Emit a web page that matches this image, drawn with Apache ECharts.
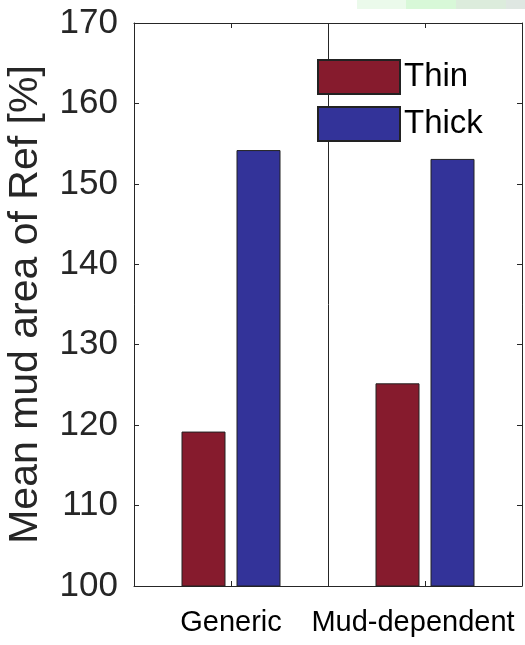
<!DOCTYPE html>
<html>
<head>
<meta charset="utf-8">
<script src="https://cdn.jsdelivr.net/npm/echarts@6/dist/echarts.min.js"></script>
<style>
  html, body { margin: 0; padding: 0; background: #ffffff; }
  #chart { width: 525px; height: 645px; }
</style>
</head>
<body>
<div id="chart"></div>
<script>
// Mean mud area relative to the reference run, per model variant
const categories = ['Generic', 'Mud-dependent'];
const seriesNames = ['Thin', 'Thick'];
const thinValues = [119.2, 125.2];
const thickValues = [154.2, 153.1];
const yTicks = [100, 110, 120, 130, 140, 150, 160, 170];

const FONT = '"Liberation Sans", Arial, Helvetica, sans-serif';
const INK = '#262626';
const colors = ['#861b2d', '#333399'];

const chart = echarts.init(document.getElementById('chart'), null, { renderer: 'canvas' });

const tickStyle = { show: true, inside: true, length: 5, lineStyle: { color: INK, width: 1 } };
const lineStyle = { show: true, lineStyle: { color: INK, width: 1 } };

chart.setOption({
  animation: false,
  backgroundColor: '#ffffff',
  textStyle: { fontFamily: FONT },
  grid: { left: 134, right: 3, top: 23, bottom: 59, containLabel: false, outerBoundsMode: 'none' },
  legend: {
    orient: 'vertical',
    left: 317,
    top: 59,
    data: seriesNames,
    icon: 'rect',
    itemWidth: 82,
    itemHeight: 34,
    itemGap: 11,
    padding: 0,
    textStyle: { fontFamily: FONT, fontSize: 33, color: '#000000', padding: [0, 0, 0, -1] }
  },
  xAxis: [
    {
      type: 'category',
      data: categories,
      position: 'bottom',
      boundaryGap: true,
      axisLine: lineStyle,
      axisTick: Object.assign({ alignWithLabel: true, interval: 0 }, tickStyle),
      splitLine: { show: true, interval: 0, lineStyle: { color: INK, width: 1 } },
      axisLabel: {
        interval: 0,
        margin: 22,
        fontFamily: FONT,
        fontSize: 29,
        color: '#000000',
        formatter: function (v) { return v === 'Mud-dependent' ? '{shift|' + v + '}' : v; },
        rich: { shift: { fontFamily: FONT, fontSize: 29, color: '#000000', padding: [0, 24, 0, 0] } }
      }
    },
    {
      type: 'category',
      data: categories,
      position: 'top',
      boundaryGap: true,
      axisLine: lineStyle,
      axisTick: Object.assign({ alignWithLabel: true, interval: 0 }, tickStyle),
      axisLabel: { show: false },
      splitLine: { show: false }
    }
  ],
  yAxis: [
    {
      type: 'value',
      min: yTicks[0],
      max: yTicks[yTicks.length - 1],
      interval: 10,
      position: 'left',
      name: 'Mean mud area of Ref [%]',
      nameLocation: 'middle',
      nameGap: 88,
      nameTextStyle: { fontFamily: FONT, fontSize: 41, color: INK },
      axisLine: lineStyle,
      axisTick: tickStyle,
      splitLine: { show: false },
      axisLabel: { margin: 16, fontFamily: FONT, fontSize: 35, color: INK }
    },
    {
      type: 'value',
      min: yTicks[0],
      max: yTicks[yTicks.length - 1],
      interval: 10,
      position: 'right',
      axisLine: lineStyle,
      axisTick: tickStyle,
      splitLine: { show: false },
      axisLabel: { show: false }
    }
  ],
  series: [
    {
      name: seriesNames[0],
      type: 'bar',
      data: thinValues,
      barWidth: 44,
      barGap: '25%',
      itemStyle: { color: colors[0], borderColor: '#222222', borderWidth: 1 }
    },
    {
      name: seriesNames[1],
      type: 'bar',
      data: thickValues,
      barWidth: 44,
      barGap: '25%',
      itemStyle: { color: colors[1], borderColor: '#222222', borderWidth: 1 }
    }
  ],
  graphic: [
    // pale green strip along the top edge
    { type: 'rect', shape: { x: 357, y: 0, width: 49, height: 9 }, style: { fill: '#ebfaeb' }, silent: true },
    { type: 'rect', shape: { x: 406, y: 0, width: 50, height: 9 }, style: { fill: '#d8f8d8' }, silent: true },
    { type: 'rect', shape: { x: 456, y: 0, width: 50, height: 9 }, style: { fill: '#dcecdc' }, silent: true },
    { type: 'rect', shape: { x: 506, y: 0, width: 19, height: 9 }, style: { fill: '#dfe7e2' }, silent: true }
  ]
});
</script>
</body>
</html>
